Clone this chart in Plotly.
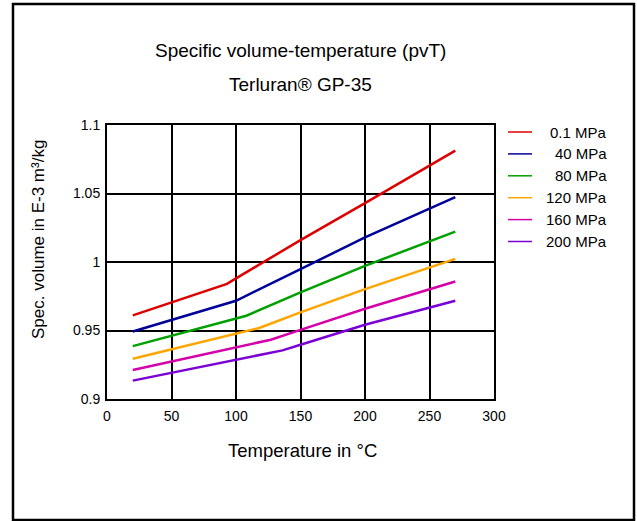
import plotly.graph_objects as go

series_names = ["0.1 MPa", "40 MPa", "80 MPa", "120 MPa", "160 MPa", "200 MPa"]
colors = ["#dd0000", "#000099", "#00a000", "#ffa500", "#d400a8", "#7a00d6"]

x_01 = [20, 93, 100, 150, 200, 270]
y_01 = [0.961, 0.984, 0.988, 1.0160, 1.0430, 1.0813]
x_40 = [20, 100, 150, 200, 270]
y_40 = [0.9493, 0.9717, 0.9948, 1.0179, 1.0473]
x_80 = [20, 108, 150, 200, 270]
y_80 = [0.9386, 0.9608, 0.9778, 0.9972, 1.0222]
x_120 = [20, 118, 150, 200, 270]
y_120 = [0.9294, 0.9518, 0.9632, 0.9802, 1.0023]
x_160 = [20, 127, 150, 200, 270]
y_160 = [0.9211, 0.9433, 0.9505, 0.9659, 0.9858]
x_200 = [20, 136, 150, 200, 270]
y_200 = [0.9134, 0.9355, 0.9396, 0.9542, 0.9717]

xs = [x_01, x_40, x_80, x_120, x_160, x_200]
ys = [y_01, y_40, y_80, y_120, y_160, y_200]

x_ticks = [0, 50, 100, 150, 200, 250, 300]
y_ticks = [0.9, 0.95, 1.0, 1.05, 1.1]
y_tick_labels = ["0.9", "0.95", "1", "1.05", "1.1"]

title1 = "Specific volume-temperature (pvT)"
title2 = "Terluran® GP-35"
x_title = "Temperature in °C"
y_title = "Spec. volume in E-3 m³/kg"

FONT = "Liberation Sans, Arial, sans-serif"

fig = go.Figure()
for name, c, x, y in zip(series_names, colors, xs, ys):
    fig.add_trace(go.Scatter(x=x, y=y, mode="lines", name=name,
                             line=dict(color=c, width=2.5), showlegend=False))

W, H = 637, 521
L, R, T, B = 107, 143, 125, 122
pw, ph = W - L - R, H - T - B

def px_x(px):
    return (px - L) / pw

def px_y(py):
    return (H - B - py) / ph

shapes = []
annotations = []
# outer frame
shapes.append(dict(type="rect", xref="paper", yref="paper",
                   x0=px_x(13), x1=px_x(634), y0=px_y(4), y1=px_y(520),
                   line=dict(color="black", width=2.5), layer="below"))
# legend
leg_y0 = 132
for i, (name, c) in enumerate(zip(series_names, colors)):
    yy = leg_y0 + i * 21.9
    shapes.append(dict(type="line", xref="paper", yref="paper",
                       x0=px_x(508), x1=px_x(532), y0=px_y(yy), y1=px_y(yy),
                       line=dict(color=c, width=1.5)))
    annotations.append(dict(text=name, xref="paper", yref="paper",
                            x=px_x(609), y=px_y(yy), xanchor="right", yanchor="middle",
                            showarrow=False, font=dict(size=15, color="black", family=FONT)))

annotations.append(dict(text=title1, xref="paper", yref="paper", x=px_x(300), y=px_y(50),
                        xanchor="center", yanchor="middle", showarrow=False,
                        font=dict(size=19, color="black", family=FONT)))
annotations.append(dict(text=title2, xref="paper", yref="paper", x=px_x(300), y=px_y(85),
                        xanchor="center", yanchor="middle", showarrow=False,
                        font=dict(size=19, color="black", family=FONT)))
annotations.append(dict(text=x_title, xref="paper", yref="paper", x=px_x(302), y=px_y(450),
                        xanchor="center", yanchor="middle", showarrow=False,
                        font=dict(size=18.5, color="black", family=FONT)))
annotations.append(dict(text=y_title, xref="paper", yref="paper", x=px_x(38), y=px_y(240),
                        xanchor="center", yanchor="middle", showarrow=False, textangle=-90,
                        font=dict(size=17, color="black", family=FONT)))

fig.update_layout(
    width=W, height=H,
    margin=dict(l=L, r=R, t=T, b=B, pad=0),
    paper_bgcolor="white", plot_bgcolor="white",
    font=dict(family=FONT, size=14, color="black"),
    shapes=shapes, annotations=annotations,
    showlegend=False,
)
fig.update_xaxes(range=[0, 300], tickvals=x_ticks, showgrid=True, gridcolor="black", gridwidth=1.5,
                 showline=True, linecolor="black", linewidth=2, mirror=True,
                 ticks="", ticklabelstandoff=3, zeroline=False,
                 tickfont=dict(size=14, family=FONT, color="black"))
fig.update_yaxes(range=[0.9, 1.1], tickvals=y_ticks, ticktext=y_tick_labels,
                 showgrid=True, gridcolor="black", gridwidth=1.5,
                 showline=True, linecolor="black", linewidth=2, mirror=True,
                 ticks="", ticklabelstandoff=2, zeroline=False,
                 tickfont=dict(size=14, family=FONT, color="black"))

fig.write_html("out.html")
